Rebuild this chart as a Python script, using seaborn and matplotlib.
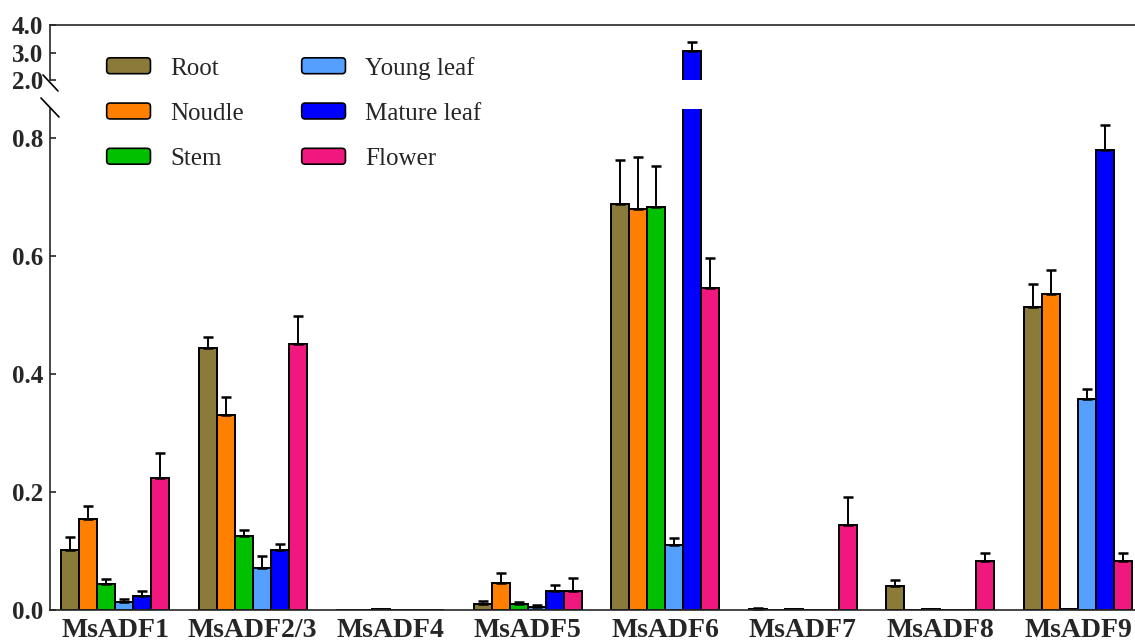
import numpy as np
import pandas as pd
import matplotlib
matplotlib.use("Agg")
import matplotlib.pyplot as plt
import seaborn as sns
from matplotlib.lines import Line2D
from matplotlib.patches import Patch, FancyBboxPatch
from matplotlib.legend_handler import HandlerPatch

genes = ["MsADF1", "MsADF2/3", "MsADF4", "MsADF5", "MsADF6", "MsADF7", "MsADF8", "MsADF9"]
tissues = ["Root", "Noudle", "Stem", "Young leaf", "Mature leaf", "Flower"]
colors = ["#8B7B3B", "#FF8000", "#00C000", "#55A0FF", "#0000FF", "#F0187F"]

root = [0.102, 0.444, 0.0, 0.010, 0.688, 0.002, 0.040, 0.514]
root_err = [0.022, 0.020, 0.0, 0.005, 0.075, 0.002, 0.011, 0.039]
noudle = [0.154, 0.330, 0.0, 0.046, 0.681, 0.0, 0.0, 0.536]
noudle_err = [0.022, 0.031, 0.0, 0.017, 0.088, 0.0, 0.0, 0.040]
stem = [0.044, 0.126, 0.001, 0.011, 0.683, 0.001, 0.001, 0.001]
stem_err = [0.009, 0.010, 0.0, 0.002, 0.070, 0.0, 0.0, 0.0]
young = [0.014, 0.072, 0.0, 0.005, 0.110, 0.0, 0.0, 0.358]
young_err = [0.004, 0.020, 0.0, 0.003, 0.012, 0.0, 0.0, 0.017]
mature = [0.024, 0.101, 0.0008, 0.032, 3.05, 0.0, 0.0008, 0.781]
mature_err = [0.008, 0.011, 0.0, 0.011, 0.35, 0.0, 0.0, 0.041]
flower = [0.224, 0.451, 0.0, 0.032, 0.546, 0.145, 0.084, 0.084]
flower_err = [0.043, 0.047, 0.0, 0.022, 0.051, 0.047, 0.012, 0.012]

values = [root, noudle, stem, young, mature, flower]
errors = [root_err, noudle_err, stem_err, young_err, mature_err, flower_err]

rows = []
for t, vals in zip(tissues, values):
    for g, v in zip(genes, vals):
        rows.append({"gene": g, "tissue": t, "value": v})
df = pd.DataFrame(rows)
pal = dict(zip(tissues, colors))

sns.set_theme(style="ticks")
plt.rcParams["font.family"] = ["Liberation Serif", "DejaVu Serif"]
plt.rcParams["axes.linewidth"] = 1.2

fig = plt.figure(figsize=(11.35, 6.43), dpi=100)
ax_lo = fig.add_axes([0.0441, 0.0513, 0.9559, 0.7792])
ax_hi = fig.add_axes([0.0441, 0.8756, 0.9559, 0.0855])

for ax in (ax_lo, ax_hi):
    sns.barplot(data=df, x="gene", y="value", hue="tissue", order=genes,
                hue_order=tissues, palette=pal, width=0.785, gap=0,
                edgecolor="black", linewidth=1.4, errorbar=None,
                legend=False, saturation=1, ax=ax)
    for cont, errs in zip(ax.containers, errors):
        for patch, e in zip(cont.patches, errs):
            if e > 0:
                xc = patch.get_x() + patch.get_width() / 2
                h = patch.get_height()
                ax.errorbar([xc], [h], yerr=[[0], [e]], fmt="none",
                            ecolor="black", elinewidth=1.4, capsize=3.6,
                            capthick=1.8, zorder=1)
    ax.set_xlim(-0.4725, 7.414)
    ax.set_xlabel("")
    ax.set_ylabel("")
    ax.spines["right"].set_visible(False)

ax_lo.set_ylim(0, 0.85)
ax_lo.set_yticks([0.0, 0.2, 0.4, 0.6, 0.8])
ax_lo.set_yticklabels(["0.0", "0.2", "0.4", "0.6", "0.8"])
ax_lo.spines["top"].set_visible(False)
ax_lo.tick_params(axis="y", direction="in", length=4, width=1.2, pad=5,
                  labelsize=18)
ax_lo.tick_params(axis="x", length=0, pad=6, labelsize=20)
for lab in ax_lo.get_xticklabels() + ax_lo.get_yticklabels():
    lab.set_fontweight("bold")

ax_hi.set_ylim(2.0, 4.0)
ax_hi.set_yticks([2.0, 3.0, 4.0])
ax_hi.set_yticklabels(["2.0", "3.0", "4.0"])
ax_hi.spines["bottom"].set_visible(False)
ax_hi.tick_params(axis="y", direction="in", length=4, width=1.2, pad=5,
                  labelsize=18)
ax_hi.tick_params(axis="x", bottom=False, labelbottom=False)
for lab in ax_hi.get_yticklabels():
    lab.set_fontweight("bold")

# break marks
fig.add_artist(Line2D([0.0379, 0.0511], [0.8834, 0.8585], color="black",
                      lw=1.2, transform=fig.transFigure))
fig.add_artist(Line2D([0.0361, 0.0520], [0.8476, 0.8180], color="black",
                      lw=1.2, transform=fig.transFigure))


def rounded(legend, orig_handle, xdescent, ydescent, width, height, fontsize):
    return FancyBboxPatch((-xdescent, -ydescent), width, height,
                          boxstyle="round,pad=0,rounding_size=2.5")


handles = [Patch(facecolor=c, edgecolor="black", linewidth=1.2) for c in colors]
fig.legend(handles, tissues, loc="upper left", bbox_to_anchor=(0.094, 0.912),
           ncol=2, frameon=False, fontsize=18, handlelength=1.75,
           handleheight=0.6, handletextpad=0.8, labelspacing=0.93,
           columnspacing=2.3, borderpad=0, borderaxespad=0,
           handler_map={Patch: HandlerPatch(patch_func=rounded)})

fig.savefig("out.png", dpi=100)
